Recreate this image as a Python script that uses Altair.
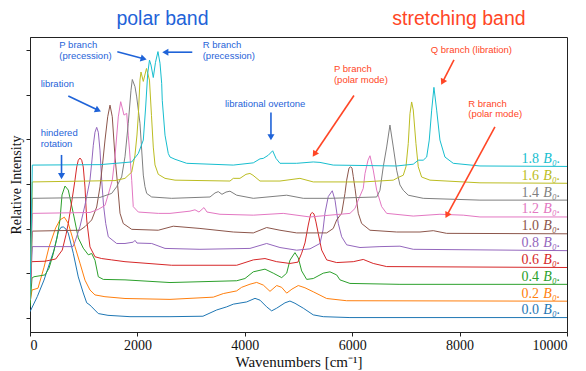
import math
import altair as alt
import pandas as pd

# ---------------- data ----------------
OFFSET = 0.377  # vertical shift between consecutive spectra

series_labels = ["0.0", "0.2", "0.4", "0.6", "0.8", "1.0", "1.2", "1.4", "1.6", "1.8"]
series_colors = ["#1f77b4", "#ff7f0e", "#2ca02c", "#d62728", "#9467bd",
                 "#8c564b", "#e377c2", "#7f7f7f", "#bcbd22", "#17becf"]

wn_00 = [0, 136, 261, 372, 447, 527, 577, 620, 670, 713, 806, 899, 992, 1056, 1117, 1149, 1272, 1452, 1862, 2607,
         3221, 3476, 3663, 3786, 4035, 4190, 4283, 4407, 4500, 4594, 4748, 4841, 4934, 5089, 5275, 5461, 5958, 10000]
int_00 = [0.14, 0.48, 0.85, 1.25, 1.52, 1.93, 2.03, 2.04, 1.99, 1.90, 1.45, 0.92, 0.56, 0.34, 0.29, 0.25, 0.10, 0.06, 0.03, 0.03,
          0.04, 0.18, 0.25, 0.31, 0.36, 0.44, 0.40, 0.25, 0.16, 0.22, 0.34, 0.38, 0.33, 0.22, 0.07, 0.03, 0.01, 0.01]

wn_02 = [0, 37, 149, 261, 354, 478, 559, 639, 713, 782, 838, 931, 1024, 1117, 1210, 1396, 1769, 2607, 3413, 3600,
         3848, 3941, 4097, 4221, 4345, 4469, 4594, 4686, 4780, 4878, 4996, 5120, 5275, 5524, 5896, 10000]
int_02 = [-0.04, 0.25, 0.29, 0.76, 1.21, 1.64, 1.82, 1.88, 1.74, 1.46, 1.22, 0.85, 0.47, 0.25, 0.14, 0.10, 0.06, 0.04, 0.09, 0.17,
          0.23, 0.31, 0.38, 0.42, 0.36, 0.22, 0.35, 0.31, 0.18, 0.27, 0.35, 0.30, 0.21, 0.06, 0.01, 0.00]

wn_04 = [0, 37, 74, 279, 354, 428, 503, 559, 596, 652, 713, 806, 899, 992, 1086, 1149, 1210, 1272, 1365, 1769,
         2607, 3849, 4003, 4158, 4376, 4530, 4687, 4780, 4841, 4934, 4996, 5059, 5152, 5275, 5461, 5586, 5711, 5772,
         5958, 6889, 10000]
int_04 = [-0.50, 0.14, 0.17, 0.21, 0.36, 0.66, 1.04, 1.45, 2.00, 2.20, 2.11, 1.59, 1.04, 0.81, 0.66, 0.69, 0.54, 0.17, 0.11, 0.10,
          0.04, 0.08, 0.13, 0.28, 0.34, 0.25, 0.15, 0.25, 0.54, 0.71, 0.59, 0.30, 0.11, 0.13, 0.25, 0.28, 0.21, 0.10,
          0.02, 0.0, 0.0]

wn_06 = [0, 28, 279, 479, 601, 670, 713, 782, 838, 870, 899, 931, 963, 992, 1024, 1056, 1117, 1210, 1335, 1521,
         1769, 2638, 3849, 4158, 4376, 4594, 4841, 4990, 5059, 5121, 5182, 5227, 5257, 5288, 5325, 5368, 5431, 5525,
         5711, 6020, 6206, 6392, 6642, 10000]
int_06 = [-0.73, 0.13, 0.14, 0.19, 0.39, 0.73, 0.99, 1.51, 1.96, 2.25, 2.40, 2.45, 2.40, 2.25, 1.80, 1.06, 0.46, 0.24, 0.20, 0.17,
          0.13, 0.05, 0.05, 0.17, 0.20, 0.13, 0.09, 0.12, 0.32, 0.55, 0.95, 1.20, 1.23, 1.20, 1.02, 0.76, 0.39, 0.17,
          0.11, 0.13, 0.18, 0.09, 0.02, 0.0]

wn_08 = [0, 43, 801, 838, 931, 1024, 1117, 1154, 1179, 1210, 1242, 1272, 1303, 1335, 1369, 1410, 1458, 1614, 1769, 1923,
         1955, 1992, 2266, 2514, 3165, 4096, 4407, 4655, 4966, 5214, 5400, 5456, 5493, 5554, 5629, 5680, 5741, 5804,
         5897, 6145, 6517, 6889, 7137, 10000]
int_08 = [-1.11, 0.09, 0.09, 0.20, 0.54, 1.02, 1.58, 2.03, 2.36, 2.65, 2.76, 2.65, 2.25, 1.58, 1.02, 0.61, 0.31, 0.16, 0.16, 0.19,
          0.23, 0.17, 0.16, 0.05, 0.03, 0.05, 0.16, 0.07, 0.01, 0.04, 0.16, 0.46, 0.84, 1.21, 1.34, 1.13, 0.61, 0.31,
          0.13, 0.07, 0.09, 0.10, 0.03, 0.0]

wn_10 = [0, 43, 931, 1024, 1149, 1242, 1303, 1359, 1397, 1447, 1490, 1532, 1583, 1629, 1676, 1737, 1894, 2389, 2668, 3165,
         3785, 4158, 4407, 4655, 4966, 5525, 5647, 5711, 5804, 5865, 5897, 5940, 5971, 5996, 6020, 6052, 6113, 6176,
         6331, 6828, 7262, 7510, 7759, 10000]
int_10 = [-1.48, 0.06, 0.08, 0.16, 0.31, 0.60, 1.05, 1.65, 2.10, 2.62, 2.88, 2.62, 1.72, 1.13, 0.46, 0.23, 0.10, 0.08, 0.17, 0.12,
          0.04, 0.02, 0.14, 0.08, 0.02, 0.02, 0.12, 0.31, 0.46, 0.90, 1.20, 1.47, 1.50, 1.47, 1.28, 1.02, 0.46, 0.23,
          0.08, 0.04, 0.04, 0.07, 0.01, 0.0]

wn_12 = [0, 43, 1117, 1272, 1397, 1471, 1532, 1583, 1644, 1689, 1718, 1750, 1801, 1830, 1853, 1894, 1923, 2017, 2389, 2607,
         2979, 3072, 3147, 3240, 3296, 3538, 4158, 4716, 5214, 5586, 5958, 6052, 6113, 6206, 6238, 6294, 6331, 6392,
         6456, 6549, 6642, 7137, 7634, 8068, 8379, 10000]
int_12 = [-1.86, 0.08, 0.10, 0.17, 0.26, 0.56, 0.82, 1.35, 2.24, 2.58, 2.44, 2.28, 2.32, 1.83, 1.50, 0.82, 0.23, 0.11, 0.08, 0.08,
          0.13, 0.16, 0.11, 0.21, 0.11, 0.06, 0.04, 0.08, 0.00, 0.04, 0.08, 0.19, 0.38, 0.64, 0.97, 1.27, 1.37, 1.05,
          0.60, 0.23, 0.08, 0.02, 0.06, 0.04, 0.00, 0.0]

wn_14 = [0, 43, 1303, 1521, 1614, 1676, 1707, 1769, 1830, 1881, 1905, 1955, 1987, 2048, 2110, 2141, 2173, 2266, 2638, 3352,
         3445, 3506, 3575, 3650, 3724, 3849, 4158, 4780, 5089, 5586, 6456, 6517, 6579, 6642, 6703, 6765, 6828, 6889,
         6951, 7044, 7323, 8379, 10000]
int_14 = [-2.24, 0.04, 0.06, 0.15, 0.30, 0.45, 0.52, 0.97, 1.72, 2.46, 2.70, 2.54, 2.31, 1.72, 0.56, 0.30, 0.15, 0.07, 0.04, 0.07,
          0.16, 0.19, 0.13, 0.18, 0.20, 0.11, 0.04, 0.11, 0.04, 0.04, 0.07, 0.22, 0.75, 1.19, 1.68, 1.19, 0.67, 0.34,
          0.22, 0.11, 0.04, 0.0, 0.0]

wn_16 = [0, 43, 1583, 1769, 1894, 1955, 1992, 2017, 2048, 2067, 2110, 2169, 2225, 2262, 2296, 2328, 2389, 2514, 2700, 3724,
         3786, 3910, 4022, 4096, 4152, 4283, 4655, 5027, 5275, 6206, 6765, 6858, 6951, 7001, 7044, 7076, 7107, 7137,
         7187, 7230, 7293, 7448, 8379, 10000]
int_16 = [-2.62, 0.03, 0.06, 0.11, 0.25, 0.63, 1.08, 1.52, 2.31, 2.49, 2.28, 2.57, 2.31, 1.52, 0.81, 0.41, 0.20, 0.11, 0.07, 0.05,
          0.11, 0.11, 0.20, 0.22, 0.18, 0.05, 0.05, 0.11, 0.03, 0.03, 0.07, 0.13, 0.18, 0.37, 0.89, 1.56, 1.82, 1.64,
          0.89, 0.37, 0.14, 0.07, 0.01, 0.0]

wn_18 = [0, 43, 1303, 1894, 2017, 2110, 2154, 2192, 2225, 2253, 2296, 2337, 2383, 2421, 2452, 2463, 2514, 2575, 2607, 2700,
         2918, 3785, 4158, 4283, 4344, 4437, 4519, 4581, 4655, 4966, 5275, 5400, 5647, 6828, 7137, 7230, 7323, 7387,
         7435, 7480, 7522, 7573, 7634, 7727, 7882, 8379, 10000]
int_18 = [-2.99, 0.03, 0.04, 0.10, 0.29, 0.59, 1.33, 2.08, 2.38, 2.27, 1.99, 2.33, 2.57, 2.31, 1.86, 1.48, 0.70, 0.29, 0.21, 0.16,
          0.07, 0.03, 0.08, 0.17, 0.18, 0.25, 0.35, 0.18, 0.07, 0.07, 0.10, 0.09, 0.03, 0.01, 0.05, 0.14, 0.14, 0.21,
          0.59, 1.26, 1.77, 1.26, 0.59, 0.21, 0.07, 0.01, 0.0]

x_ticks = [0, 2000, 4000, 6000, 8000, 10000]
y_ticks = [0, 1, 2, 3, 4, 5, 6]

# annotation texts
BLUE = "#1f63d8"
RED = "#ff4626"
ann_text = ["polar band", "stretching band",
            "P branch", "(precession)", "R branch", "(precession)",
            "libration", "hindered", "rotation", "librational overtone",
            "P branch", "(polar mode)", "Q branch (libration)", "R branch", "(polar mode)"]
ann_x = [2467, 7988, 546, 546, 3216, 3216, 199, 199, 199, 3631, 5660, 5660, 7461, 8161, 8161]
ann_y = [6.55, 6.55, 6.04, 5.79, 6.04, 5.79, 5.16, 4.07, 3.83, 4.73, 5.51, 5.27, 5.93, 4.73, 4.49]
ann_col = [BLUE, RED, BLUE, BLUE, BLUE, BLUE, BLUE, BLUE, BLUE, BLUE, RED, RED, RED, RED, RED]
ann_size = [19.5, 19.5, 9.5, 9.5, 9.5, 9.5, 9.5, 9.5, 9.5, 9.5, 9.5, 9.5, 9.5, 9.5, 9.5]
ann_align = ["center", "center"] + ["left"] * 13

# arrows: start (x, y) -> tip (x, y)
arr_x1 = [1626, 3022, 713, 587, 4487, 6033, 7895, 8658]
arr_y1 = [5.96, 5.95, 4.97, 3.65, 4.60, 4.98, 5.78, 4.28]
arr_x2 = [2154, 2482, 1303, 587, 4487, 5275, 7666, 7746]
arr_y2 = [5.79, 5.95, 4.63, 3.13, 4.00, 3.63, 5.24, 2.26]
arr_col = [BLUE, BLUE, BLUE, BLUE, BLUE, RED, RED, RED]

# ---------------- build tables ----------------
wn_series = [wn_00, wn_02, wn_04, wn_06, wn_08, wn_10, wn_12, wn_14, wn_16, wn_18]
int_series = [int_00, int_02, int_04, int_06, int_08, int_10, int_12, int_14, int_16, int_18]

rows = []
for i, (lab, wns, ints) in enumerate(zip(series_labels, wn_series, int_series)):
    assert len(wns) == len(ints), lab
    for k, (w, v) in enumerate(zip(wns, ints)):
        rows.append({"series": lab, "k": k, "wn": w, "y": i * OFFSET + v})
df = pd.DataFrame(rows)

W, H = 537, 295
X_DOMAIN = [0, 10000]
Y_DOMAIN = [-0.313, 6.29]
SX = W / (X_DOMAIN[1] - X_DOMAIN[0])          # px per wavenumber
SY = H / (Y_DOMAIN[1] - Y_DOMAIN[0])          # px per y unit

xscale = alt.Scale(domain=X_DOMAIN, nice=False, zero=False)
yscale = alt.Scale(domain=Y_DOMAIN, nice=False, zero=False)

x_axis = alt.Axis(values=x_ticks, title="Wavenumbers [cm⁻¹]", format="d",
                  labelFontSize=14, titleFontSize=15, titlePadding=2, labelPadding=2)
y_axis = alt.Axis(values=y_ticks, labels=False, title="Relative Intensity",
                  titleFontSize=14, titlePadding=2)


def X(field):
    return alt.X(field, type="quantitative", scale=xscale, axis=x_axis)


def Y(field):
    return alt.Y(field, type="quantitative", scale=yscale, axis=y_axis)


lines = alt.Chart(df).mark_line(strokeWidth=1, clip=True).encode(
    x=X("wn"),
    y=Y("y"),
    color=alt.Color("series:N", scale=alt.Scale(domain=series_labels, range=series_colors), legend=None),
    order=alt.Order("k:Q"),
)

lab_df = pd.DataFrame({
    "num": series_labels,
    "b": ["B₀."] * len(series_labels),
    "wn_num": [9480] * len(series_labels),
    "wn_b": [9560] * len(series_labels),
    "y": [i * OFFSET + 0.08 for i in range(len(series_labels))],
    "col": series_colors,
})
num_text = alt.Chart(lab_df).mark_text(align="right", baseline="alphabetic", font="Liberation Serif",
                                       fontSize=14).encode(
    x=X("wn_num"), y=Y("y"), text="num:N",
    color=alt.Color("col:N", scale=None),
)
b_text = alt.Chart(lab_df).mark_text(align="left", baseline="alphabetic", font="Liberation Serif",
                                     fontSize=14, fontStyle="italic").encode(
    x=X("wn_b"), y=Y("y"), text="b:N",
    color=alt.Color("col:N", scale=None),
)

ann_df = pd.DataFrame({"text": ann_text, "x": ann_x, "y": ann_y, "c": ann_col,
                       "s": ann_size, "a": ann_align})
ann_layers = []
for al in ["center", "left"]:
    sub = ann_df[ann_df["a"] == al]
    ann_layers.append(
        alt.Chart(sub).mark_text(align=al, baseline="alphabetic", font="Liberation Sans").encode(
            x=X("x"), y=Y("y"), text="text:N",
            size=alt.Size("s:Q", scale=None, legend=None),
            color=alt.Color("c:N", scale=None),
        )
    )

# arrows: shaft + triangular head
HEAD = 50  # symbol area
h_half = math.sqrt(3) * (math.sqrt(HEAD) / 2) / 2
arr_rows = []
for x1, y1, x2, y2, c in zip(arr_x1, arr_y1, arr_x2, arr_y2, arr_col):
    dxp = (x2 - x1) * SX
    dyp = -(y2 - y1) * SY
    L = math.hypot(dxp, dyp)
    ux, uy = dxp / L, dyp / L
    cx = x2 - ux * h_half / SX
    cy = y2 + uy * h_half / SY
    ang = math.degrees(math.atan2(dxp, -dyp)) % 360
    arr_rows.append({"x1": x1, "y1": y1, "hx": cx, "hy": cy, "ang": ang, "c": c})
arr_df = pd.DataFrame(arr_rows)

shafts = alt.Chart(arr_df).mark_rule(strokeWidth=1.6).encode(
    x=X("x1"), y=Y("y1"), x2="hx:Q", y2="hy:Q",
    color=alt.Color("c:N", scale=None),
)
heads = alt.Chart(arr_df).mark_point(shape="triangle", filled=True, size=HEAD, opacity=1).encode(
    x=X("hx"), y=Y("hy"),
    angle=alt.Angle("ang:Q", scale=None),
    color=alt.Color("c:N", scale=None),
)

chart = alt.layer(lines, num_text, b_text, *ann_layers, shafts, heads).properties(
    width=W, height=H,
    autosize=alt.AutoSizeParams(type="none"),
    padding={"left": 22, "top": 29, "right": 10, "bottom": 39},
).configure_view(
    stroke="#222", strokeWidth=1
).configure_axis(
    grid=False, domainColor="#222", tickColor="#222", labelColor="#111", titleColor="#111",
    labelFont="Liberation Serif", titleFont="Liberation Serif", tickSize=4, domainWidth=1,
    titleFontWeight="normal",
)

chart.save("out.html", embed_options={"renderer": "svg", "actions": False})
